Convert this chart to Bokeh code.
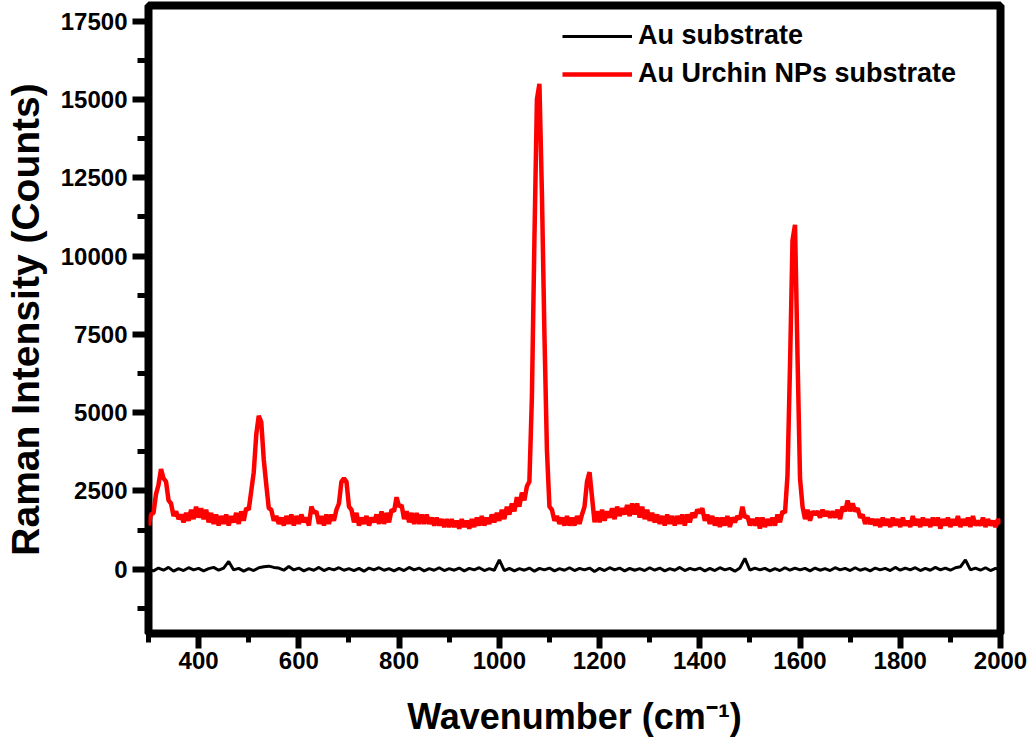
import numpy as np
from bokeh.plotting import figure
from bokeh.models import SingleIntervalTicker, Range1d, Legend, LegendItem
from bokeh.embed import file_html
from bokeh.resources import INLINE

# ---------------- data ----------------
# Au Urchin NPs substrate, wavenumber 300..2000 every 5 cm-1
urchin_x = list(range(300, 2001, 5))
urchin_y = [
    1400, 1750, 1800, 2400, 2700, 3200, 2900, 2800, 2200, 2100,   # 300-345
    1700, 1850, 1600, 1750, 1500, 1800, 1550, 1900, 1600, 2000,   # 350-395
    1650, 1950, 1600, 1900, 1500, 1800, 1450, 1750, 1400, 1700,   # 400-445
    1450, 1750, 1400, 1700, 1500, 1800, 1450, 1850, 1550, 1950,   # 450-495
    1900, 2500, 3100, 4300, 4900, 4700, 3500, 2700, 1950, 1900,   # 500-545
    1550, 1700, 1450, 1650, 1400, 1700, 1450, 1750, 1400, 1700,   # 550-595
    1450, 1750, 1500, 1650, 1400, 2000, 1800, 1850, 1450, 1700,   # 600-645
    1400, 1750, 1450, 1750, 1550, 1900, 2100, 2800, 2900, 2800,   # 650-695
    2000, 1900, 1500, 1800, 1400, 1650, 1450, 1700, 1400, 1650,   # 700-745
    1500, 1750, 1450, 1850, 1450, 1800, 1500, 1900, 1850, 2300,   # 750-795
    2000, 2050, 1600, 1850, 1500, 1800, 1450, 1800, 1450, 1750,   # 800-845
    1450, 1750, 1450, 1650, 1400, 1650, 1400, 1600, 1350, 1600,   # 850-895
    1350, 1600, 1350, 1550, 1300, 1600, 1350, 1550, 1300, 1600,   # 900-945
    1350, 1650, 1400, 1700, 1400, 1650, 1450, 1750, 1500, 1800,   # 950-995
    1550, 1900, 1600, 2000, 1750, 2100, 1850, 2300, 2000, 2450,   # 1000-1045
    2200, 2650, 2800, 5500, 10500, 15000, 15500, 12000, 7500, 3800,  # 1050-1095
    2000, 1900, 1550, 1700, 1450, 1650, 1400, 1700, 1400, 1650,   # 1100-1145
    1400, 1700, 1450, 1750, 2000, 2800, 3100, 2300, 1500, 1850,   # 1150-1195
    1500, 1900, 1550, 1850, 1650, 1950, 1600, 2000, 1700, 1950,   # 1200-1245
    1750, 2050, 1700, 2100, 1750, 2100, 1650, 2000, 1600, 1900,   # 1250-1295
    1550, 1800, 1500, 1750, 1450, 1700, 1400, 1750, 1450, 1700,   # 1300-1345
    1400, 1700, 1450, 1750, 1400, 1750, 1500, 1800, 1650, 1900,   # 1350-1395
    1800, 1950, 1550, 1750, 1450, 1700, 1400, 1650, 1350, 1650,   # 1400-1445
    1400, 1700, 1350, 1650, 1500, 1700, 1600, 2000, 1650, 1700,   # 1450-1495
    1400, 1600, 1400, 1650, 1300, 1650, 1350, 1600, 1400, 1650,   # 1500-1545
    1400, 1750, 1500, 1850, 1800, 3000, 6500, 10500, 11000, 6800,  # 1550-1595
    2900, 2000, 1600, 1900, 1550, 1850, 1750, 1850, 1650, 1900,   # 1600-1645
    1700, 1850, 1650, 1850, 1650, 1900, 1600, 2000, 1850, 2200,   # 1650-1695
    1850, 2100, 1850, 1950, 1650, 1750, 1450, 1650, 1450, 1600,   # 1700-1745
    1400, 1600, 1350, 1650, 1400, 1600, 1350, 1650, 1400, 1600,   # 1750-1795
    1350, 1650, 1400, 1550, 1350, 1700, 1400, 1600, 1350, 1650,   # 1800-1845
    1400, 1600, 1350, 1650, 1400, 1650, 1300, 1600, 1400, 1650,   # 1850-1895
    1350, 1600, 1400, 1700, 1350, 1600, 1400, 1650, 1350, 1700,   # 1900-1945
    1400, 1550, 1400, 1650, 1350, 1600, 1400, 1550, 1350, 1600,   # 1950-1995
    1450,                                                         # 2000
]

# Au substrate, wavenumber 300..2000 every 10 cm-1
au_x = list(range(300, 2001, 10))
au_y = [
    0, -50, 40, -30, 60, -60, 20, -40, 50, -20,        # 300-390
    30, -50, 20, 60, -30, 40, 250, -20, 30, -60,       # 400-490
    20, -40, 50, 80, 100, 60, 40, -30, 90, -20,        # 500-590
    40, -50, 20, -30, 60, -40, 30, -20, 50, -30,       # 600-690
    20, -40, 30, -60, 40, -20, 50, -30, 20, -50,       # 700-790
    30, -40, 60, -20, 40, -50, 20, -30, 50, -40,       # 800-890
    20, -30, 40, -50, 30, -20, 50, -40, 20, -30,       # 900-990
    300, -40, 30, -50, 20, -30, 40, -60, 30, -20,      # 1000-1090
    40, -50, 20, -30, 50, -40, 30, -20, 40, -70,       # 1100-1190
    30, -40, 50, -20, 40, -50, 30, -30, 20, -40,       # 1200-1290
    50, -30, 40, -50, 20, -30, 60, -40, 30, -20,       # 1300-1390
    40, -50, 30, -40, 50, -20, 30, -60, 40, 350,       # 1400-1490
    -30, 40, -20, 30, -50, 20, -40, 50, -30, 40,       # 1500-1590
    -20, 30, -50, 40, -30, 20, -40, 50, -20, 30,       # 1600-1690
    -40, 50, -30, 20, -50, 40, -20, 30, -40, 60,       # 1700-1790
    -30, 40, -20, 50, -40, 30, -30, 60, -20, 40,       # 1800-1890
    -30, 50, 80, 300, -20, 40, -30, 50, -40, 30,       # 1900-1990
    -20,                                               # 2000
]

series_names = ["Au substrate", "Au Urchin NPs substrate"]
x_title = "Wavenumber (cm\u207b\u00b9)"
y_title = "Raman Intensity (Counts)"

FONT = "Liberation Sans"

# ---------------- figure ----------------
p = figure(width=1028, height=750, output_backend="svg", toolbar_location=None,
           x_range=Range1d(300, 2000), y_range=Range1d(-2050, 18000),
           min_border_left=148, min_border_right=28, min_border_top=5,
           min_border_bottom=117)
p.background_fill_color = "white"
p.border_fill_color = "white"
p.grid.visible = False
p.outline_line_color = "black"
p.outline_line_width = 8

p.xaxis.ticker = SingleIntervalTicker(interval=200, num_minor_ticks=2)
p.yaxis.ticker = SingleIntervalTicker(interval=2500, num_minor_ticks=2)

for ax in (p.xaxis, p.yaxis):
    ax.axis_line_color = None
    ax.major_tick_in = 0
    ax.minor_tick_in = 0
    ax.major_tick_line_color = "black"
    ax.minor_tick_line_color = "black"
    ax.major_tick_line_width = 6
    ax.minor_tick_line_width = 5
    ax.major_label_text_font = FONT
    ax.major_label_text_font_style = "bold"
    ax.major_label_text_font_size = "24px"
    ax.major_label_text_color = "black"
    ax.axis_label_text_font = FONT
    ax.axis_label_text_font_style = "bold"
    ax.axis_label_text_color = "black"

p.yaxis.major_tick_out = 16
p.yaxis.minor_tick_out = 11
p.yaxis.major_label_standoff = 5
p.yaxis.axis_label = y_title
p.yaxis.axis_label_text_font_size = "39px"
p.yaxis.axis_label_standoff = 11

p.xaxis.major_tick_out = 15
p.xaxis.minor_tick_out = 9
p.xaxis.major_label_standoff = 3
p.xaxis.axis_label = x_title
p.xaxis.axis_label_text_font_size = "36px"
p.xaxis.axis_label_standoff = 24

r_au = p.line(au_x, au_y, line_color="black", line_width=3)
r_ur = p.line(urchin_x, urchin_y, line_color="#ff0000", line_width=4.5)

legend = Legend(items=[LegendItem(label=series_names[0], renderers=[r_au]),
                       LegendItem(label=series_names[1], renderers=[r_ur])],
                location=(414, 544), orientation="vertical")
legend.background_fill_alpha = 0
legend.border_line_color = None
legend.padding = 0
legend.margin = 0
legend.spacing = 7
legend.glyph_width = 70
legend.glyph_height = 30
legend.label_height = 30
legend.label_standoff = 6
legend.label_text_font = FONT
legend.label_text_font_style = "bold"
legend.label_text_font_size = "27px"
legend.label_text_color = "black"
p.add_layout(legend)

open("out.html", "w").write(file_html(p, INLINE))
